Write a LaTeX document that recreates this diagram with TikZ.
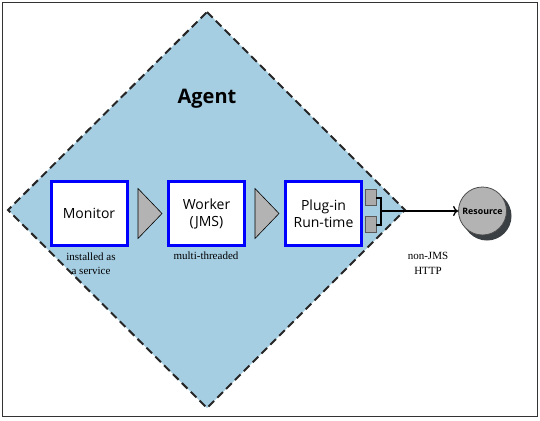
\documentclass[tikz,border=0pt]{standalone}
\usepackage{fontspec}
\setmainfont{Liberation Serif}
\newfontfamily\boxfont{Open Sans}
\usetikzlibrary{arrows.meta}
\definecolor{agentblue}{HTML}{A6CEE3}
\definecolor{boxblue}{HTML}{0000FF}
\definecolor{tri}{HTML}{B3B3B3}
\definecolor{portgray}{HTML}{ABABAB}
\definecolor{shadow}{HTML}{3A3F44}
\tikzset{
  compbox/.style={draw=boxblue, line width=3pt, fill=white, minimum width=76pt, minimum height=64pt, inner sep=0pt, align=center, font=\boxfont\fontsize{14}{17}\selectfont},
  caption/.style={font=\fontsize{11}{14.5}\selectfont, align=center, inner sep=0pt},
  flowtri/.style={draw=black, fill=tri, line width=0.6pt},
  port/.style={draw=black!65, fill=portgray, line width=0.8pt, minimum width=11pt, minimum height=16pt, inner sep=0pt},
}
\begin{document}
\begin{tikzpicture}[x=1pt, y=-1pt]
\useasboundingbox (0,0) rectangle (540,420);
\draw[black!80, line width=1pt] (2.5,2.5) rectangle (537.5,416.5);
% Agent diamond
\coordinate (dt) at (207,12);
\coordinate (dl) at (8,210);
\coordinate (dr) at (405,210);
\coordinate (db) at (207,408);
\draw[fill=agentblue, draw=black!85, line width=2pt, dash pattern=on 8pt off 4.5pt] (dt) -- (dr) -- (db) -- (dl) -- cycle;
\node[font=\boxfont\bfseries\fontsize{20}{24}\selectfont] (agent) at (207,99) {Agent};
% component boxes
\node[compbox] (mon) at (89,213.5) {Monitor};
\node[compbox] (wrk) at (206.5,213.5) {Worker\\(JMS)};
\node[compbox] (plg) at (323.5,213.5) {Plug-in\\Run-time};
\node[caption] (moncap) at (91,263.5) {installed as\\a service};
\node[caption] (wrkcap) at (206,256) {multi-threaded};
% flow triangles
\coordinate (t1) at (150,213.5);
\coordinate (t2) at (267,213.5);
\draw[flowtri] ([xshift=-12pt,yshift=-25pt]t1) -- ([xshift=12pt]t1) -- ([xshift=-12pt,yshift=25pt]t1) -- cycle;
\draw[flowtri] ([xshift=-12pt,yshift=-25pt]t2) -- ([xshift=12pt]t2) -- ([xshift=-12pt,yshift=25pt]t2) -- cycle;
% ports
\node[port] (p1) at (370.5,197.5) {};
\node[port] (p2) at (370.5,224.5) {};
\coordinate (bj) at (381,211);
\draw[line width=2pt] (p1.east) -| (bj) |- (p2.east);
% resource
\fill[shadow] (487,216) circle (24.5pt);
\node[circle, draw=black!70, fill=tri, line width=0.8pt, minimum size=48pt, inner sep=0pt, font=\boxfont\bfseries\fontsize{8.8}{10}\selectfont] (res) at (482.5,211) {Resource};
\draw[line width=1.3pt, -{To[length=5pt,width=10pt,line width=1.3pt]}] (bj) -- (res.west);
\node[caption] (http) at (428,263.5) {non-JMS\\HTTP};
\end{tikzpicture}
\end{document}
